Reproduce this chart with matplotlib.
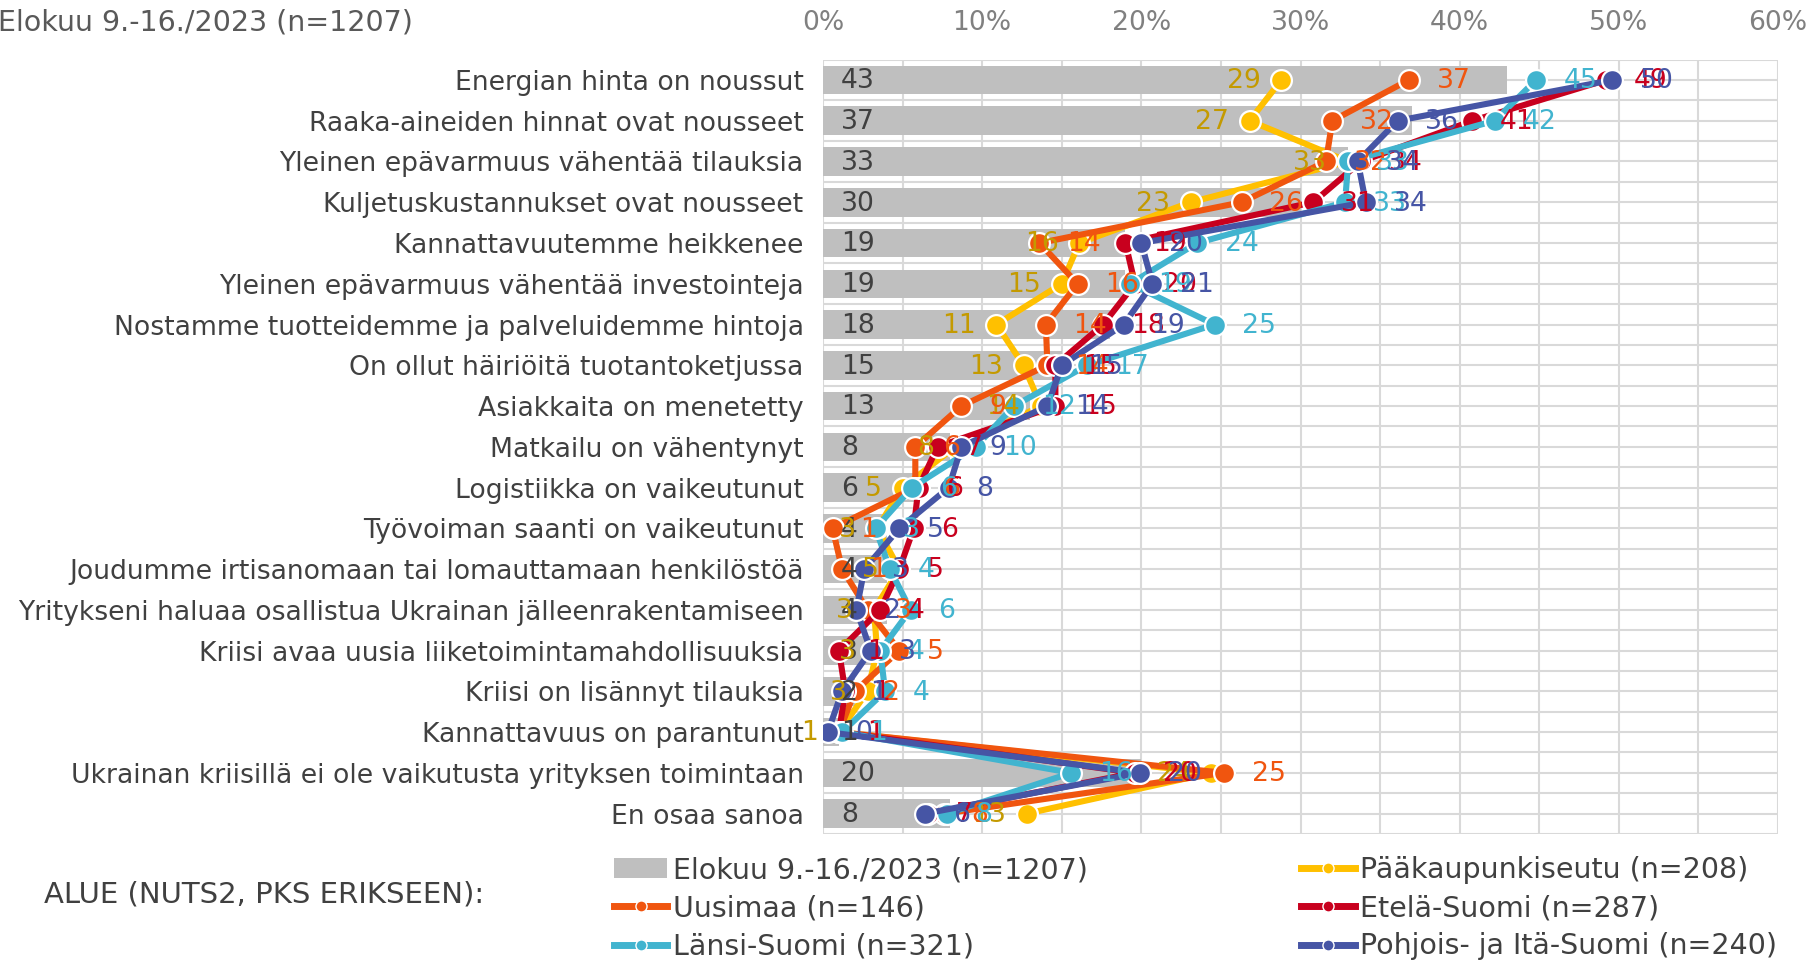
import matplotlib
matplotlib.use("Agg")
import matplotlib.pyplot as plt
from matplotlib.lines import Line2D
from matplotlib.patches import Patch
import numpy as np

plt.rcParams['font.family'] = ['DejaVu Sans']

categories = [
    "Energian hinta on noussut",
    "Raaka-aineiden hinnat ovat nousseet",
    "Yleinen epävarmuus vähentää tilauksia",
    "Kuljetuskustannukset ovat nousseet",
    "Kannattavuutemme heikkenee",
    "Yleinen epävarmuus vähentää investointeja",
    "Nostamme tuotteidemme ja palveluidemme hintoja",
    "On ollut häiriöitä tuotantoketjussa",
    "Asiakkaita on menetetty",
    "Matkailu on vähentynyt",
    "Logistiikka on vaikeutunut",
    "Työvoiman saanti on vaikeutunut",
    "Joudumme irtisanomaan tai lomauttamaan henkilöstöä",
    "Yritykseni haluaa osallistua Ukrainan jälleenrakentamiseen",
    "Kriisi avaa uusia liiketoimintamahdollisuuksia",
    "Kriisi on lisännyt tilauksia",
    "Kannattavuus on parantunut",
    "Ukrainan kriisillä ei ole vaikutusta yrityksen toimintaan",
    "En osaa sanoa",
]

overall = [43, 37, 33, 30, 19, 19, 18, 15, 13, 8, 6, 4, 4, 4, 3, 2, 1, 20, 8]

pks = [28.8, 26.8, 33.0, 23.1, 16.1, 15.0, 10.9, 12.6, 13.7, 8.3, 5.0, 3.4, 4.8, 3.2, 3.4, 2.8, 1.0, 24.4, 12.8]
uusimaa = [36.8, 32.0, 31.6, 26.3, 13.6, 16.0, 14.0, 14.1, 8.7, 5.8, 5.8, 0.6, 1.2, 2.8, 4.8, 2.0, 1.0, 25.2, 7.6]
etela = [49.2, 40.8, 33.8, 30.8, 19.0, 19.6, 17.6, 14.6, 14.6, 7.2, 6.0, 5.7, 4.8, 3.6, 1.0, 1.4, 1.0, 19.6, 6.6]
lansi = [44.8, 42.2, 33.0, 32.8, 23.5, 19.3, 24.6, 16.6, 12.0, 9.6, 5.6, 3.3, 4.2, 5.5, 3.6, 3.9, 1.2, 15.6, 7.8]
pohjois = [49.6, 36.1, 33.6, 34.1, 20.0, 20.7, 18.9, 15.0, 14.1, 8.7, 7.9, 4.8, 2.6, 2.1, 3.0, 1.2, 0.3, 19.9, 6.4]

bar_label = "Elokuu 9.-16./2023 (n=1207)"
series_labels = ["Pääkaupunkiseutu (n=208)", "Uusimaa (n=146)", "Etelä-Suomi (n=287)",
                 "Länsi-Suomi (n=321)", "Pohjois- ja Itä-Suomi (n=240)"]
xtick_vals = [0, 10, 20, 30, 40, 50, 60]
legend_title = "ALUE (NUTS2, PKS ERIKSEEN):"

line_colors = ["#FFC000", "#F0550F", "#C8001E", "#41B4CF", "#4655A5"]
label_colors = ["#C49A00", "#F0550F", "#C8001E", "#41B4CF", "#4655A5"]
bar_color = "#BFBFBF"
grid_color = "#D9D9D9"
text_dark = "#404040"

FS = 19.2
FS_LEG = 20.5

W, H = 1813, 961
fig = plt.figure(figsize=(W / 100, H / 100), dpi=100)
x0, x1 = 823, 1778
ytop, ybot = 59.6, 834
ax = fig.add_axes([x0 / W, 1 - ybot / H, (x1 - x0) / W, (ybot - ytop) / H])

n = len(categories)
y = np.arange(n)

ax.barh(y, overall, height=0.7, color=bar_color, zorder=2)
for yi, v in zip(y, overall):
    ax.annotate(f"{v}", (0, yi), xytext=(13, -1), textcoords="offset points",
                ha="left", va="center", fontsize=FS, color=text_dark, zorder=12)

all_series = [pks, uusimaa, etela, lansi, pohjois]
for k, (vals, lc) in enumerate(zip(all_series, line_colors)):
    ax.plot(vals, y, color=lc, lw=4.4, marker="o", markersize=15,
            markeredgecolor="white", markeredgewidth=1.6, zorder=4 + k,
            solid_joinstyle="round")

for k, (vals, tc) in enumerate(zip(all_series, label_colors)):
    for yi, v in zip(y, vals):
        if k == 0:
            ax.annotate(f"{v:.0f}", (v, yi), xytext=(-15, -1), textcoords="offset points",
                        ha="right", va="center", fontsize=FS, color=tc, zorder=12,
                        annotation_clip=False)
        else:
            ax.annotate(f"{v:.0f}", (v, yi), xytext=(20, -1), textcoords="offset points",
                        ha="left", va="center", fontsize=FS, color=tc, zorder=12,
                        annotation_clip=False)

ax.set_xlim(0, 60)
ax.set_ylim(n - 0.5, -0.5)
ax.xaxis.tick_top()
ax.set_xticks(xtick_vals)
ax.set_xticklabels([f"{v}%" for v in xtick_vals], fontsize=FS, color="#808080")
ax.set_xticks(np.arange(0, 61, 5), minor=True)
ax.set_yticks(y)
ax.set_yticklabels(categories, fontsize=FS, color=text_dark)
ax.set_yticks(np.arange(-0.5, n, 1.0), minor=True)
ax.tick_params(axis="both", which="both", length=0)
ax.tick_params(axis="x", pad=17)
ax.tick_params(axis="y", pad=14)
ax.grid(True, which="both", color=grid_color, lw=1.5, zorder=0)
ax.set_axisbelow(True)
for s in ax.spines.values():
    s.set_visible(False)

fig.text(413 / W, 1 - 22 / H, bar_label, ha="right", va="center", fontsize=FS_LEG, color="#595959")

handles = [Patch(facecolor=bar_color, edgecolor="none")]
labels = [bar_label]
for lc, lab in zip(line_colors, series_labels):
    handles.append(Line2D([0], [0], color=lc, lw=5, marker="o", markersize=8,
                          markeredgecolor="white", markeredgewidth=1.0))
    labels.append(lab)
# order so that column 1: bar, Uusimaa, Länsi ; column 2: PKS, Etelä, Pohjois
order = [0, 2, 4, 1, 3, 5]
fig.legend([handles[i] for i in order], [labels[i] for i in order],
           loc="upper left", bbox_to_anchor=(614 / W, 1 - 856 / H), ncol=2,
           frameon=False, fontsize=FS_LEG, handlelength=1.87, handleheight=0.65,
           handletextpad=0.2, labelspacing=0.36, columnspacing=7.5,
           borderaxespad=0, borderpad=0, labelcolor=text_dark)
fig.text(44 / W, 1 - 894 / H, legend_title, ha="left", va="center", fontsize=21, color=text_dark)

fig.savefig("out.png", dpi=100, facecolor="white")
